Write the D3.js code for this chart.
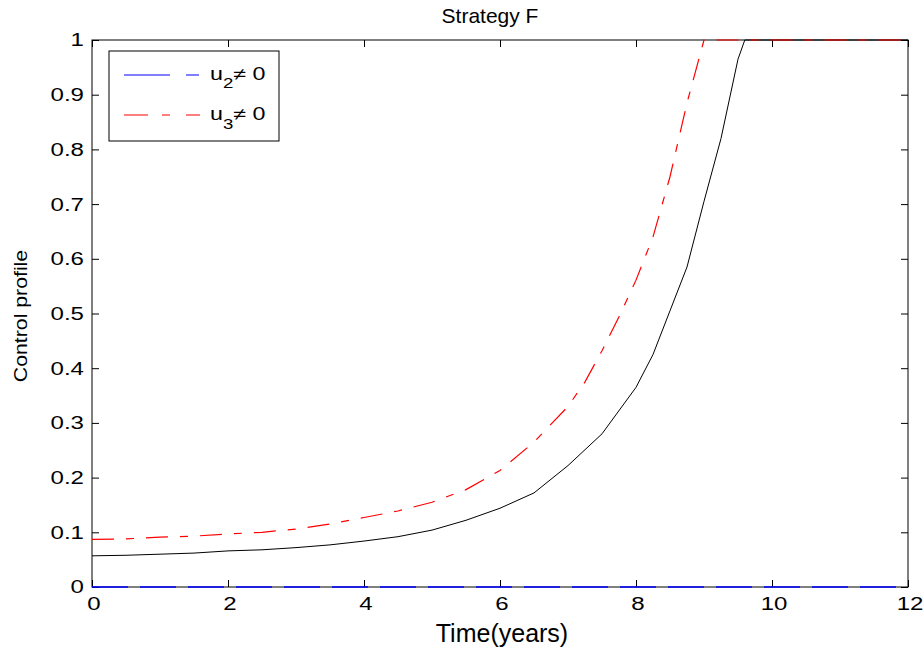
<!DOCTYPE html>
<html><head><meta charset="utf-8">
<script src="https://cdn.jsdelivr.net/npm/d3@7"></script>
<style>
body{margin:0;background:#fff;}
text{font-family:"Liberation Sans",Arial,sans-serif;fill:#000;}
</style></head>
<body><svg id="c" width="924" height="648"></svg>
<script>
const blackT=[0,0.5,1,1.5,2,2.5,3,3.5,4,4.5,5,5.5,6,6.5,7,7.5,8,8.25,8.5,8.75,9,9.25,9.5,9.6,10,11,12];
const blackV=[0.057,0.058,0.06,0.062,0.066,0.068,0.072,0.077,0.084,0.092,0.104,0.122,0.144,0.172,0.222,0.28,0.365,0.425,0.505,0.585,0.705,0.82,0.965,1,1,1,1];
const redT=[0,0.5,1,1.5,2,2.5,3,3.5,4,4.5,5,5.5,6,6.5,7,7.25,7.5,7.75,8,8.25,8.5,8.75,9,10,11,12];
const redV=[0.087,0.088,0.091,0.093,0.097,0.1,0.106,0.115,0.127,0.139,0.155,0.178,0.213,0.265,0.33,0.375,0.432,0.494,0.561,0.64,0.75,0.885,1,1,1,1];
const blueT=[0,12];
const blueV=[0,0];
const xTicks=[0,2,4,6,8,10,12];
const yTicks=[0,0.1,0.2,0.3,0.4,0.5,0.6,0.7,0.8,0.9,1];
const legendLabels=[{base:"u",sub:"2",rest:"\u2260 0",color:"#0000ff",dash:"46,16,13,40"},{base:"u",sub:"3",rest:"\u2260 0",color:"#ff0000",dash:"24,14,8,16"}];

const svg=d3.select("#c");
const L=92,R=908,T=40,B=587;
const x=d3.scaleLinear().domain([0,12]).range([L,R]);
const y=d3.scaleLinear().domain([0,1]).range([B,T]);
const tl=7, sx=1.3, tf=18.5;

svg.append("rect").attr("x",L).attr("y",T).attr("width",R-L).attr("height",B-T)
  .attr("fill","none").attr("stroke","#000").attr("stroke-width",1);

const fmt=d=>d3.format("~g")(d);
const gx=svg.append("g").attr("transform",`translate(0,${B})`)
  .call(d3.axisBottom(x).tickValues(xTicks).tickFormat(fmt).tickSizeInner(-tl).tickSizeOuter(0).tickPadding(9.5));
const gxt=svg.append("g").attr("transform",`translate(0,${T})`)
  .call(d3.axisTop(x).tickValues(xTicks).tickFormat("").tickSizeInner(-tl).tickSizeOuter(0));
const gy=svg.append("g").attr("transform",`translate(${L},0)`)
  .call(d3.axisLeft(y).tickValues(yTicks).tickFormat(fmt).tickSizeInner(-tl).tickSizeOuter(0).tickPadding(8));
const gyr=svg.append("g").attr("transform",`translate(${R},0)`)
  .call(d3.axisRight(y).tickValues(yTicks).tickFormat("").tickSizeInner(-tl).tickSizeOuter(0));
[gx,gxt,gy,gyr].forEach(g=>{g.select(".domain").remove();g.selectAll("line").attr("stroke","#000");
  g.selectAll("text").style("font-size",tf+"px").style("font-family","'Liberation Sans',Arial,sans-serif").attr("fill","#000");});
gx.selectAll(".tick text").each(function(){const t=d3.select(this);const yy=+t.attr("y");
  t.attr("y",0).attr("transform",`translate(1.5,${yy}) scale(${sx},1)`);});
gy.selectAll(".tick text").each(function(){const t=d3.select(this);const xx=+t.attr("x");
  t.attr("x",0).attr("transform",`translate(${xx},0) scale(${sx},1)`);});

const line=d3.line().x(d=>x(d[0])).y(d=>y(d[1]));
svg.append("path").datum(d3.zip(blackT,blackV)).attr("d",line).attr("fill","none").attr("stroke","#000").attr("stroke-width",1);
svg.append("path").datum(d3.zip(blueT,blueV)).attr("d",line).attr("fill","none").attr("stroke","#0000ff").attr("stroke-width",1.3).attr("stroke-dasharray","36,12");
svg.append("path").datum(d3.zip(redT,redV)).attr("d",line).attr("fill","none").attr("stroke","#ff0000").attr("stroke-width",1.2).attr("stroke-dasharray","22,12,8,12");

svg.append("text").attr("x",490).attr("y",23).attr("text-anchor","middle").style("font-size","21px").text("Strategy F");
svg.append("text").attr("x",502).attr("y",642).attr("text-anchor","middle").style("font-size","25px").text("Time(years)");
svg.append("text").attr("transform",`translate(27,316) rotate(-90) scale(1.15,1)`).attr("text-anchor","middle").style("font-size","18.5px").text("Control profile");

const lg=svg.append("g");
lg.append("rect").attr("x",109).attr("y",51).attr("width",170).attr("height",90).attr("fill","#fff").attr("stroke","#000").attr("stroke-width",1);
legendLabels.forEach((d,i)=>{
  const ly=75+i*40;
  lg.append("line").attr("x1",124).attr("x2",200).attr("y1",ly).attr("y2",ly).attr("stroke",d.color).attr("stroke-width",1.2).attr("stroke-dasharray",d.dash);
  const t=lg.append("text").attr("transform",`translate(210,${ly+4.5+i*0.5}) scale(1.33,1)`).style("font-size","17.5px");
  t.append("tspan").text(d.base);
  t.append("tspan").attr("dy",8.5).style("font-size","14px").text(d.sub);
  t.append("tspan").attr("dy",-8.5).text(d.rest);
});
</script></body></html>
